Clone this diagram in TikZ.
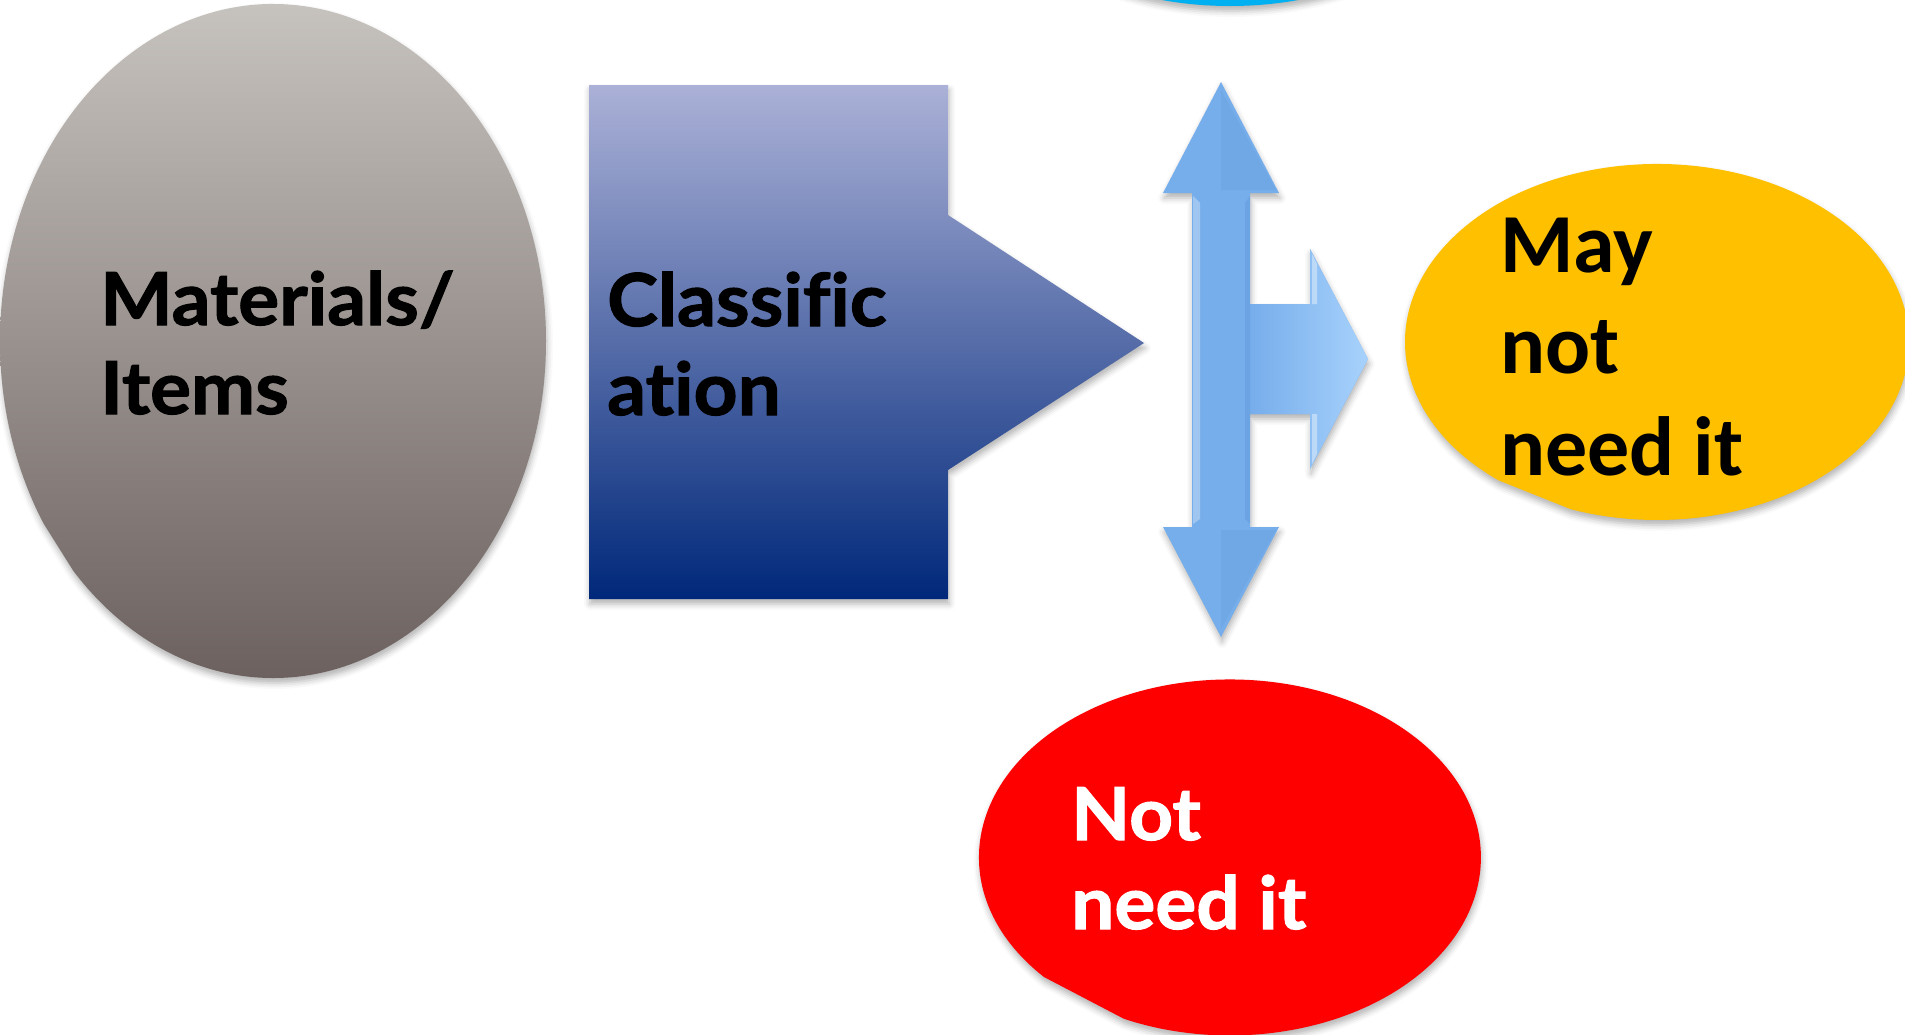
\documentclass[tikz,border=0pt]{standalone}
\usepackage{fontspec}
\setmainfont{Lato}
\newfontfamily\gill{Lato}[Ligatures=NoCommon, FakeStretch=1.05, BoldFeatures={FakeBold=1.5}]
\newfontfamily\calib{Carlito}
\usetikzlibrary{shadows.blur}

\definecolor{graytop}{RGB}{198,194,189}
\definecolor{graybot}{RGB}{108,97,95}
\definecolor{classtop}{RGB}{171,177,215}
\definecolor{classbot}{RGB}{0,40,122}
\definecolor{arrowbase}{RGB}{118,173,235}
\definecolor{arrowlight}{RGB}{168,210,252}
\definecolor{arrowdark}{RGB}{86,140,206}
\definecolor{goldfill}{RGB}{255,192,0}
\definecolor{redfill}{RGB}{255,0,0}
\definecolor{skyfill}{RGB}{0,176,240}

\tikzset{
  softshadow/.style={blur shadow={shadow xshift=1pt, shadow yshift=-5pt,
      shadow blur radius=6pt, shadow opacity=30}},
  % anchored at the baseline of the last line
  gilltext/.style={inner sep=0pt, align=left, anchor=base west,
      font=\gill\bfseries\fontsize{73}{89}\selectfont},
  calibtext/.style={inner sep=0pt, align=left, anchor=base west,
      font=\calib\bfseries\fontsize{84}{101.5}\selectfont},
}

\begin{document}
\begin{tikzpicture}[x=1pt,y=-1pt]
\useasboundingbox (0,0) rectangle (1905,1034);
\clip (0,0) rectangle (1905,1034);

% top sky-blue ellipse, mostly off the page
\fill[skyfill, softshadow] (1230,-170) ellipse[x radius=262, y radius=176];

% materials / items
\path[softshadow, top color=graytop, bottom color=graybot]
  (273,4) arc[start angle=270, end angle=450, x radius=273, y radius=337]
  arc[start angle=90, end angle=137, x radius=273, y radius=337]
  -- (43.3,523)
  arc[start angle=147.3, end angle=270, x radius=273, y radius=337] -- cycle;
\node[gilltext] (mat) at (100,414) {Materials/\\Items};

% classification pentagon arrow
\path[softshadow, top color=classtop, bottom color=classbot]
  (589,85) -- (948,85) -- (948,215) -- (1144,343) -- (948,470) -- (948,599)
  -- (589,599) -- cycle;
\node[gilltext] (cls) at (607,415) {Classific\\ation};

% three-way arrow
\path[softshadow, fill=arrowbase]
  (1221,82) -- (1279,193) -- (1250,193) -- (1250,304) -- (1310,304)
  -- (1310,249) -- (1368,359) -- (1310,469) -- (1310,414) -- (1250,414)
  -- (1250,527) -- (1279,527) -- (1221,637) -- (1163,527) -- (1192,527)
  -- (1192,193) -- (1163,193) -- cycle;
\path[left color=arrowbase, right color=arrowlight]
  (1250,304) -- (1310,304) -- (1310,249) -- (1368,359) -- (1310,469)
  -- (1310,414) -- (1250,414) -- cycle;
% bevel shading on the shaft and heads
\fill[white, opacity=0.3] (1193,196) -- (1200,203) -- (1200,519) -- (1193,524) -- cycle;
\fill[arrowdark, opacity=0.3] (1250,196) -- (1245,203) -- (1245,519) -- (1250,524) -- cycle;
\fill[arrowdark, opacity=0.18] (1221,90) -- (1276,190) -- (1221,190) -- cycle;
\fill[arrowdark, opacity=0.18] (1221,629) -- (1276,530) -- (1221,530) -- cycle;
\fill[white, opacity=0.4] (1312,254) -- (1317,264) -- (1317,304) -- (1312,304) -- cycle;
\fill[white, opacity=0.4] (1312,464) -- (1317,454) -- (1317,414) -- (1312,414) -- cycle;

% may not need it
\path[softshadow, fill=goldfill]
  (1498.4,480.3) arc[start angle=129, end angle=470, x radius=252, y radius=178]
  -- cycle;
\node[calibtext] (may) at (1500,475) {May\\not\\need it};

% not need it
\path[softshadow, fill=redfill]
  (1044,977) arc[start angle=137.8, end angle=475, x radius=251, y radius=178]
  -- cycle;
\node[gilltext, text=white] (notneed) at (1071,929) {Not\\need it};

\end{tikzpicture}
\end{document}
